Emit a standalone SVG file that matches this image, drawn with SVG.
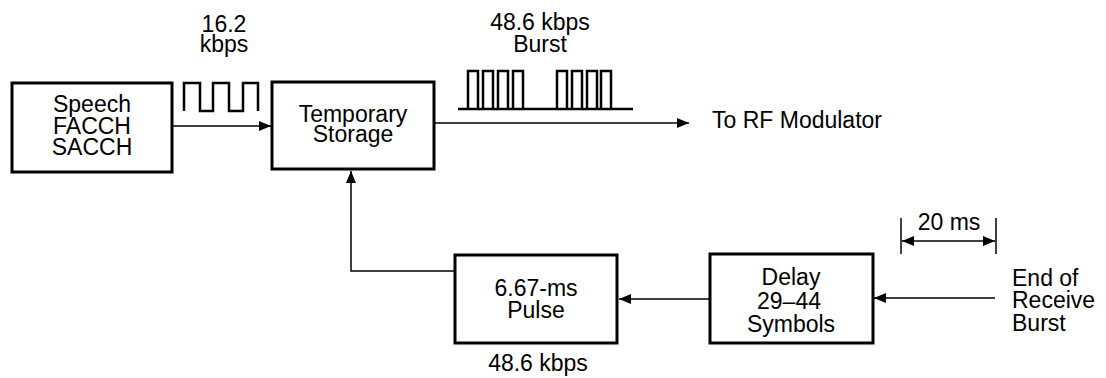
<svg xmlns="http://www.w3.org/2000/svg" width="1106" height="378" viewBox="0 0 1106 378">
<style>
text{font-family:"Liberation Sans",Arial,Helvetica,sans-serif;font-size:23px;fill:#000}
.c{text-anchor:middle}
.box{fill:#fff;stroke:#000;stroke-width:3}
.ln{fill:none;stroke:#000;stroke-width:1.5}
.wave{fill:none;stroke:#000;stroke-width:2.5}
</style>
<defs>
<marker id="ah" viewBox="0 0 12 10" refX="12" refY="5" markerWidth="12" markerHeight="10" markerUnits="userSpaceOnUse" orient="auto-start-reverse">
<path d="M0,0 L12,5 L0,10 Z" fill="#000"/>
</marker>
</defs>
<rect width="1106" height="378" fill="#fff"/>
<g id="connectors">
<line class="ln" x1="172" y1="126" x2="271" y2="126" marker-end="url(#ah)"/>
<line class="ln" x1="434" y1="123" x2="689" y2="123" marker-end="url(#ah)"/>
<polyline class="ln" points="455,271 351,271 351,171" marker-end="url(#ah)"/>
<line class="ln" x1="710" y1="299" x2="619" y2="299" marker-end="url(#ah)"/>
<line class="ln" x1="995" y1="298" x2="874" y2="298" marker-end="url(#ah)"/>
</g>
<g id="speech">
<rect class="box" x="12" y="83" width="160" height="89"/>
<text class="c" x="92" y="112">Speech</text>
<text class="c" x="92" y="134">FACCH</text>
<text class="c" x="92" y="155">SACCH</text>
</g>
<g id="storage">
<rect class="box" x="272" y="82" width="162" height="87"/>
<text class="c" x="353" y="122">Temporary</text>
<text class="c" x="353" y="142">Storage</text>
</g>
<g id="pulse">
<rect class="box" x="455" y="255" width="162" height="88"/>
<text class="c" x="536" y="296">6.67-ms</text>
<text class="c" x="536" y="318">Pulse</text>
</g>
<g id="delay">
<rect class="box" x="710" y="254" width="163" height="89"/>
<text class="c" x="791" y="285">Delay</text>
<text class="c" x="789" y="309">29–44</text>
<text class="c" x="791" y="332">Symbols</text>
</g>
<g id="wave16">
<path class="wave" d="M184,111 V83 H200 V111 H213 V83 H229 V111 H243 V83 H258 V111"/>
<text class="c" x="224" y="32">16.2</text>
<text class="c" x="224" y="52">kbps</text>
</g>
<g id="burst">
<path class="wave" d="M458,109 H633 M468,109 V71 H478 V109 M483,109 V71 H493 V109 M498,109 V71 H508 V109 M513,109 V71 H523 V109 M557,109 V71 H567 V109 M572,109 V71 H582 V109 M587,109 V71 H597 V109 M601,109 V71 H611 V109"/>
<text class="c" x="540" y="30">48.6 kbps</text>
<text class="c" x="540" y="52">Burst</text>
</g>
<g id="labels">
<text x="712" y="128">To RF Modulator</text>
<text class="c" x="538" y="371">48.6 kbps</text>
<text x="1012" y="286">End of</text>
<text x="1012" y="308">Receive</text>
<text x="1012" y="331">Burst</text>
</g>
<g id="dimension">
<line class="ln" x1="901" y1="218" x2="901" y2="254"/>
<line class="ln" x1="996" y1="218" x2="996" y2="254"/>
<line class="ln" x1="902" y1="241" x2="995" y2="241" marker-start="url(#ah)" marker-end="url(#ah)"/>
<text class="c" x="949" y="230">20 ms</text>
</g>
</svg>
